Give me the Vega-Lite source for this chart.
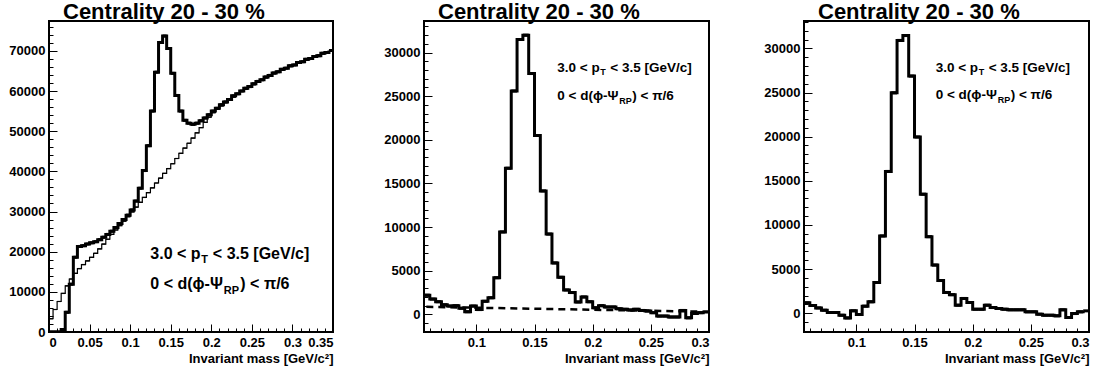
{
  "$schema": "https://vega.github.io/schema/vega-lite/v6.json",
  "background": "white",
  "padding": {"left": 7, "top": 0, "right": 0, "bottom": 2},
  "bounds": "flush",
  "spacing": 91,
  "config": {
    "view": {"stroke": "black", "strokeWidth": 2},
    "title": {"font": "Liberation Sans", "fontSize": 22, "fontWeight": "bold", "color": "black", "anchor": "start", "frame": "group", "dx": 14, "offset": -3, "baseline": "alphabetic"}
  },
  "datasets": {
    "L_fg": [
      {"lo":0.000,"hi":0.005,"v":0},{"lo":0.005,"hi":0.010,"v":0},{"lo":0.010,"hi":0.015,"v":0},{"lo":0.015,"hi":0.020,"v":600},
      {"lo":0.020,"hi":0.025,"v":4900},{"lo":0.025,"hi":0.030,"v":11900},{"lo":0.030,"hi":0.035,"v":18600},{"lo":0.035,"hi":0.040,"v":21300},
      {"lo":0.040,"hi":0.045,"v":21500},{"lo":0.045,"hi":0.050,"v":21900},{"lo":0.050,"hi":0.055,"v":22200},{"lo":0.055,"hi":0.060,"v":22500},
      {"lo":0.060,"hi":0.065,"v":23000},{"lo":0.065,"hi":0.070,"v":23600},{"lo":0.070,"hi":0.075,"v":24300},{"lo":0.075,"hi":0.080,"v":25100},
      {"lo":0.080,"hi":0.085,"v":26000},{"lo":0.085,"hi":0.090,"v":27000},{"lo":0.090,"hi":0.095,"v":28000},{"lo":0.095,"hi":0.100,"v":29100},
      {"lo":0.100,"hi":0.105,"v":30400},{"lo":0.105,"hi":0.110,"v":32600},{"lo":0.110,"hi":0.115,"v":35800},{"lo":0.115,"hi":0.120,"v":40200},
      {"lo":0.120,"hi":0.125,"v":46400},{"lo":0.125,"hi":0.130,"v":55000},{"lo":0.130,"hi":0.135,"v":64700},{"lo":0.135,"hi":0.140,"v":72100},
      {"lo":0.140,"hi":0.145,"v":73700},{"lo":0.145,"hi":0.150,"v":70600},{"lo":0.150,"hi":0.155,"v":64400},{"lo":0.155,"hi":0.160,"v":58900},
      {"lo":0.160,"hi":0.165,"v":55000},{"lo":0.165,"hi":0.170,"v":52700},{"lo":0.170,"hi":0.175,"v":52000},{"lo":0.175,"hi":0.180,"v":51700},
      {"lo":0.180,"hi":0.185,"v":52000},{"lo":0.185,"hi":0.190,"v":52600},{"lo":0.190,"hi":0.195,"v":53300},{"lo":0.195,"hi":0.200,"v":54100},
      {"lo":0.200,"hi":0.205,"v":55000},{"lo":0.205,"hi":0.210,"v":55700},{"lo":0.210,"hi":0.215,"v":56600},{"lo":0.215,"hi":0.220,"v":57300},
      {"lo":0.220,"hi":0.225,"v":57900},{"lo":0.225,"hi":0.230,"v":58800},{"lo":0.230,"hi":0.235,"v":59300},{"lo":0.235,"hi":0.240,"v":60000},
      {"lo":0.240,"hi":0.245,"v":60700},{"lo":0.245,"hi":0.250,"v":61100},{"lo":0.250,"hi":0.255,"v":61800},{"lo":0.255,"hi":0.260,"v":62400},
      {"lo":0.260,"hi":0.265,"v":62800},{"lo":0.265,"hi":0.270,"v":63500},{"lo":0.270,"hi":0.275,"v":63900},{"lo":0.275,"hi":0.280,"v":64500},
      {"lo":0.280,"hi":0.285,"v":64800},{"lo":0.285,"hi":0.290,"v":65400},{"lo":0.290,"hi":0.295,"v":65700},{"lo":0.295,"hi":0.300,"v":66300},
      {"lo":0.300,"hi":0.305,"v":66500},{"lo":0.305,"hi":0.310,"v":67100},{"lo":0.310,"hi":0.315,"v":67300},{"lo":0.315,"hi":0.320,"v":67900},
      {"lo":0.320,"hi":0.325,"v":68100},{"lo":0.325,"hi":0.330,"v":68600},{"lo":0.330,"hi":0.335,"v":68800},{"lo":0.335,"hi":0.340,"v":69400},
      {"lo":0.340,"hi":0.345,"v":69600},{"lo":0.345,"hi":0.350,"v":70100}
    ],
    "L_bg": [
      {"lo":0.000,"hi":0.005,"v":3300},{"lo":0.005,"hi":0.010,"v":5600},{"lo":0.010,"hi":0.015,"v":7600},{"lo":0.015,"hi":0.020,"v":9600},
      {"lo":0.020,"hi":0.025,"v":11500},{"lo":0.025,"hi":0.030,"v":13200},{"lo":0.030,"hi":0.035,"v":14600},{"lo":0.035,"hi":0.040,"v":15800},
      {"lo":0.040,"hi":0.045,"v":16800},{"lo":0.045,"hi":0.050,"v":17700},{"lo":0.050,"hi":0.055,"v":18600},{"lo":0.055,"hi":0.060,"v":19600},
      {"lo":0.060,"hi":0.065,"v":20700},{"lo":0.065,"hi":0.070,"v":21900},{"lo":0.070,"hi":0.075,"v":23100},{"lo":0.075,"hi":0.080,"v":24300},
      {"lo":0.080,"hi":0.085,"v":25400},{"lo":0.085,"hi":0.090,"v":26500},{"lo":0.090,"hi":0.095,"v":27600},{"lo":0.095,"hi":0.100,"v":28700},
      {"lo":0.100,"hi":0.105,"v":29900},{"lo":0.105,"hi":0.110,"v":31100},{"lo":0.110,"hi":0.115,"v":32300},{"lo":0.115,"hi":0.120,"v":33500},
      {"lo":0.120,"hi":0.125,"v":34700},{"lo":0.125,"hi":0.130,"v":35900},{"lo":0.130,"hi":0.135,"v":37100},{"lo":0.135,"hi":0.140,"v":38300},
      {"lo":0.140,"hi":0.145,"v":39500},{"lo":0.145,"hi":0.150,"v":40700},{"lo":0.150,"hi":0.155,"v":41900},{"lo":0.155,"hi":0.160,"v":43200},
      {"lo":0.160,"hi":0.165,"v":44500},{"lo":0.165,"hi":0.170,"v":45800},{"lo":0.170,"hi":0.175,"v":47000},{"lo":0.175,"hi":0.180,"v":48300},
      {"lo":0.180,"hi":0.185,"v":49600},{"lo":0.185,"hi":0.190,"v":50900},{"lo":0.190,"hi":0.195,"v":52200},{"lo":0.195,"hi":0.200,"v":53500},
      {"lo":0.200,"hi":0.205,"v":54600},{"lo":0.205,"hi":0.210,"v":55500},{"lo":0.210,"hi":0.215,"v":56300},{"lo":0.215,"hi":0.220,"v":57100},
      {"lo":0.220,"hi":0.225,"v":57800},{"lo":0.225,"hi":0.230,"v":58500},{"lo":0.230,"hi":0.235,"v":59200},{"lo":0.235,"hi":0.240,"v":59900},
      {"lo":0.240,"hi":0.245,"v":60400},{"lo":0.245,"hi":0.250,"v":61000},{"lo":0.250,"hi":0.255,"v":61600},{"lo":0.255,"hi":0.260,"v":62200},
      {"lo":0.260,"hi":0.265,"v":62700},{"lo":0.265,"hi":0.270,"v":63300},{"lo":0.270,"hi":0.275,"v":63800},{"lo":0.275,"hi":0.280,"v":64300},
      {"lo":0.280,"hi":0.285,"v":64800},{"lo":0.285,"hi":0.290,"v":65200},{"lo":0.290,"hi":0.295,"v":65700},{"lo":0.295,"hi":0.300,"v":66100},
      {"lo":0.300,"hi":0.305,"v":66500},{"lo":0.305,"hi":0.310,"v":66900},{"lo":0.310,"hi":0.315,"v":67300},{"lo":0.315,"hi":0.320,"v":67700},
      {"lo":0.320,"hi":0.325,"v":68100},{"lo":0.325,"hi":0.330,"v":68500},{"lo":0.330,"hi":0.335,"v":68900},{"lo":0.335,"hi":0.340,"v":69300},
      {"lo":0.340,"hi":0.345,"v":69600},{"lo":0.345,"hi":0.350,"v":70000}
    ],
    "M": [
      {"lo":0.055,"hi":0.060,"v":2200},{"lo":0.060,"hi":0.065,"v":1750},{"lo":0.065,"hi":0.070,"v":1450},{"lo":0.070,"hi":0.075,"v":1100},
      {"lo":0.075,"hi":0.080,"v":950},{"lo":0.080,"hi":0.085,"v":1000},{"lo":0.085,"hi":0.090,"v":700},{"lo":0.090,"hi":0.095,"v":300},
      {"lo":0.095,"hi":0.100,"v":950},{"lo":0.100,"hi":0.105,"v":550},{"lo":0.105,"hi":0.110,"v":1500},{"lo":0.110,"hi":0.115,"v":1900},
      {"lo":0.115,"hi":0.120,"v":4200},{"lo":0.120,"hi":0.125,"v":9450},{"lo":0.125,"hi":0.130,"v":16750},{"lo":0.130,"hi":0.135,"v":25600},
      {"lo":0.135,"hi":0.140,"v":31500},{"lo":0.140,"hi":0.145,"v":32000},{"lo":0.145,"hi":0.150,"v":27600},{"lo":0.150,"hi":0.155,"v":20500},
      {"lo":0.155,"hi":0.160,"v":14150},{"lo":0.160,"hi":0.165,"v":9200},{"lo":0.165,"hi":0.170,"v":5900},{"lo":0.170,"hi":0.175,"v":4250},
      {"lo":0.175,"hi":0.180,"v":2800},{"lo":0.180,"hi":0.185,"v":2500},{"lo":0.185,"hi":0.190,"v":1420},{"lo":0.190,"hi":0.195,"v":2000},
      {"lo":0.195,"hi":0.200,"v":1450},{"lo":0.200,"hi":0.205,"v":750},{"lo":0.205,"hi":0.210,"v":1000},{"lo":0.210,"hi":0.215,"v":850},
      {"lo":0.215,"hi":0.220,"v":850},{"lo":0.220,"hi":0.225,"v":650},{"lo":0.225,"hi":0.230,"v":580},{"lo":0.230,"hi":0.235,"v":500},
      {"lo":0.235,"hi":0.240,"v":580},{"lo":0.240,"hi":0.245,"v":450},{"lo":0.245,"hi":0.250,"v":380},{"lo":0.250,"hi":0.255,"v":200},
      {"lo":0.255,"hi":0.260,"v":-200},{"lo":0.260,"hi":0.265,"v":-200},{"lo":0.265,"hi":0.270,"v":-300},{"lo":0.270,"hi":0.275,"v":-300},
      {"lo":0.275,"hi":0.280,"v":450},{"lo":0.280,"hi":0.285,"v":-400},{"lo":0.285,"hi":0.290,"v":100},{"lo":0.290,"hi":0.295,"v":200},
      {"lo":0.295,"hi":0.300,"v":270}
    ],
    "M_fit": [{"m":0.057,"f":860},{"m":0.3,"f":300}],
    "R": [
      {"lo":0.055,"hi":0.060,"v":1170},{"lo":0.060,"hi":0.065,"v":870},{"lo":0.065,"hi":0.070,"v":600},{"lo":0.070,"hi":0.075,"v":340},
      {"lo":0.075,"hi":0.080,"v":80},{"lo":0.080,"hi":0.085,"v":80},{"lo":0.085,"hi":0.090,"v":-230},{"lo":0.090,"hi":0.095,"v":-530},
      {"lo":0.095,"hi":0.100,"v":270},{"lo":0.100,"hi":0.105,"v":-150},{"lo":0.105,"hi":0.110,"v":800},{"lo":0.110,"hi":0.115,"v":1290},
      {"lo":0.115,"hi":0.120,"v":3480},{"lo":0.120,"hi":0.125,"v":8750},{"lo":0.125,"hi":0.130,"v":16060},{"lo":0.130,"hi":0.135,"v":24960},
      {"lo":0.135,"hi":0.140,"v":30900},{"lo":0.140,"hi":0.145,"v":31450},{"lo":0.145,"hi":0.150,"v":26860},{"lo":0.150,"hi":0.155,"v":19960},
      {"lo":0.155,"hi":0.160,"v":13480},{"lo":0.160,"hi":0.165,"v":8670},{"lo":0.165,"hi":0.170,"v":5450},{"lo":0.170,"hi":0.175,"v":3700},
      {"lo":0.175,"hi":0.180,"v":2350},{"lo":0.180,"hi":0.185,"v":2100},{"lo":0.185,"hi":0.190,"v":910},{"lo":0.190,"hi":0.195,"v":1670},
      {"lo":0.195,"hi":0.200,"v":1210},{"lo":0.200,"hi":0.205,"v":450},{"lo":0.205,"hi":0.210,"v":450},{"lo":0.210,"hi":0.215,"v":910},
      {"lo":0.215,"hi":0.220,"v":640},{"lo":0.220,"hi":0.225,"v":530},{"lo":0.225,"hi":0.230,"v":450},{"lo":0.230,"hi":0.235,"v":380},
      {"lo":0.235,"hi":0.240,"v":380},{"lo":0.240,"hi":0.245,"v":380},{"lo":0.245,"hi":0.250,"v":150},{"lo":0.250,"hi":0.255,"v":150},
      {"lo":0.255,"hi":0.260,"v":-110},{"lo":0.260,"hi":0.265,"v":-230},{"lo":0.265,"hi":0.270,"v":-230},{"lo":0.270,"hi":0.275,"v":-300},
      {"lo":0.275,"hi":0.280,"v":380},{"lo":0.280,"hi":0.285,"v":-490},{"lo":0.285,"hi":0.290,"v":-40},{"lo":0.290,"hi":0.295,"v":150},
      {"lo":0.295,"hi":0.300,"v":265}
    ]
  },
  "hconcat": [
    {
      "width": 284, "height": 311,
      "title": {"text": "Centrality 20 - 30 %"},
      "resolve": {"axis": {"x": "independent", "y": "independent"}},
      "layer": [
        {"data": {"name": "L_bg"}, "mark": {"type": "line", "interpolate": "step-after", "color": "black", "strokeWidth": 1.2, "clip": true},
         "encoding": {
           "x": {"field": "lo", "type": "quantitative", "scale": {"domain": [0, 0.35], "nice": false, "zero": false},
                 "axis": {"orient": "bottom", "values": [0,0.05,0.1,0.15,0.2,0.25,0.3,0.35], "format": "~g", "tickSize": -8, "tickColor": "black", "labelPadding": 12, "grid": false, "domain": false,
                          "labelFont": "Liberation Sans", "labelFontWeight": "bold", "labelFontSize": 13, "labelColor": "black",
                          "title": "Invariant mass [GeV/c²]", "titleFont": "Liberation Sans", "titleFontWeight": "bold", "titleFontSize": 13, "titleColor": "black", "titleAnchor": "end", "titlePadding": 3}},
           "y": {"field": "v", "type": "quantitative", "scale": {"domain": [0, 77440], "nice": false, "zero": false},
                 "axis": {"orient": "left", "values": [0,10000,20000,30000,40000,50000,60000,70000], "format": "d", "tickSize": -8, "tickColor": "black", "labelPadding": 12, "grid": false, "domain": false,
                          "labelFont": "Liberation Sans", "labelFontWeight": "bold", "labelFontSize": 13, "labelColor": "black", "title": null}}}},
        {"data": {"name": "L_bg"}, "mark": {"type": "rule", "color": "black", "strokeWidth": 1.2, "clip": true},
         "encoding": {
           "x": {"field": "lo", "type": "quantitative", "scale": {"domain": [0, 0.35], "nice": false, "zero": false},
                 "axis": {"orient": "bottom", "values": [0.01,0.02,0.03,0.04,0.06,0.07,0.08,0.09,0.11,0.12,0.13,0.14,0.16,0.17,0.18,0.19,0.21,0.22,0.23,0.24,0.26,0.27,0.28,0.29,0.31,0.32,0.33,0.34], "labels": false, "tickSize": -4, "tickColor": "black", "grid": false, "domain": false, "title": null}},
           "x2": {"field": "hi"},
           "y": {"field": "v", "type": "quantitative", "scale": {"domain": [0, 77440], "nice": false, "zero": false},
                 "axis": {"orient": "left", "values": [2000,4000,6000,8000,12000,14000,16000,18000,22000,24000,26000,28000,32000,34000,36000,38000,42000,44000,46000,48000,52000,54000,56000,58000,62000,64000,66000,68000,72000,74000,76000], "labels": false, "tickSize": -4, "tickColor": "black", "grid": false, "domain": false, "title": null}}}},
        {"data": {"name": "L_fg"}, "mark": {"type": "line", "interpolate": "step-after", "color": "black", "strokeWidth": 3, "clip": true},
         "encoding": {"x": {"field": "lo", "type": "quantitative", "axis": null}, "y": {"field": "v", "type": "quantitative", "axis": null}}},
        {"data": {"name": "L_fg"}, "mark": {"type": "rule", "color": "black", "strokeWidth": 3, "clip": true},
         "encoding": {"x": {"field": "lo", "type": "quantitative", "axis": null}, "x2": {"field": "hi"}, "y": {"field": "v", "type": "quantitative", "axis": null}}},
        {"data": {"values": [{"x": 0.1249, "y": 18250}]}, "mark": {"type": "text", "text": "3.0 < p", "align": "left", "baseline": "alphabetic", "font": "Liberation Sans", "fontWeight": "bold", "fontSize": 16, "color": "black"},
         "encoding": {"x": {"field": "x", "type": "quantitative", "axis": null}, "y": {"field": "y", "type": "quantitative", "axis": null}}},
        {"data": {"values": [{"x": 0.1249, "y": 18250}]}, "mark": {"type": "text", "text": "T", "align": "left", "baseline": "alphabetic", "dx": 51, "dy": 4, "font": "Liberation Sans", "fontWeight": "bold", "fontSize": 11, "color": "black"},
         "encoding": {"x": {"field": "x", "type": "quantitative", "axis": null}, "y": {"field": "y", "type": "quantitative", "axis": null}}},
        {"data": {"values": [{"x": 0.1249, "y": 18250}]}, "mark": {"type": "text", "text": "< 3.5 [GeV/c]", "align": "left", "baseline": "alphabetic", "dx": 62.5, "font": "Liberation Sans", "fontWeight": "bold", "fontSize": 16, "color": "black"},
         "encoding": {"x": {"field": "x", "type": "quantitative", "axis": null}, "y": {"field": "y", "type": "quantitative", "axis": null}}},
        {"data": {"values": [{"x": 0.1249, "y": 10630}]}, "mark": {"type": "text", "text": "0 < d(ϕ-Ψ", "align": "left", "baseline": "alphabetic", "font": "Liberation Sans", "fontWeight": "bold", "fontSize": 16, "color": "black"},
         "encoding": {"x": {"field": "x", "type": "quantitative", "axis": null}, "y": {"field": "y", "type": "quantitative", "axis": null}}},
        {"data": {"values": [{"x": 0.1249, "y": 10630}]}, "mark": {"type": "text", "text": "RP", "align": "left", "baseline": "alphabetic", "dx": 73.5, "dy": 5, "font": "Liberation Sans", "fontWeight": "bold", "fontSize": 11, "color": "black"},
         "encoding": {"x": {"field": "x", "type": "quantitative", "axis": null}, "y": {"field": "y", "type": "quantitative", "axis": null}}},
        {"data": {"values": [{"x": 0.1249, "y": 10630}]}, "mark": {"type": "text", "text": ") < π/6", "align": "left", "baseline": "alphabetic", "dx": 90, "font": "Liberation Sans", "fontWeight": "bold", "fontSize": 16, "color": "black"},
         "encoding": {"x": {"field": "x", "type": "quantitative", "axis": null}, "y": {"field": "y", "type": "quantitative", "axis": null}}}
      ]
    },
    {
      "bounds": "flush",
      "spacing": 95,
      "hconcat": [
        {
          "width": 285, "height": 311,
          "title": {"text": "Centrality 20 - 30 %"},
          "resolve": {"axis": {"x": "independent", "y": "independent"}},
          "layer": [
            {"data": {"name": "M"}, "mark": {"type": "line", "interpolate": "step-after", "color": "black", "strokeWidth": 3, "clip": true},
             "encoding": {
               "x": {"field": "lo", "type": "quantitative", "scale": {"domain": [0.055, 0.3], "nice": false, "zero": false},
                     "axis": {"orient": "bottom", "values": [0.1,0.15,0.2,0.25,0.3], "format": "~g", "tickSize": -8, "tickColor": "black", "labelPadding": 12, "grid": false, "domain": false,
                              "labelFont": "Liberation Sans", "labelFontWeight": "bold", "labelFontSize": 13, "labelColor": "black",
                              "title": "Invariant mass [GeV/c²]", "titleFont": "Liberation Sans", "titleFontWeight": "bold", "titleFontSize": 13, "titleColor": "black", "titleAnchor": "end", "titlePadding": 3}},
               "y": {"field": "v", "type": "quantitative", "scale": {"domain": [-2020, 33620], "nice": false, "zero": false},
                     "axis": {"orient": "left", "values": [0,5000,10000,15000,20000,25000,30000], "format": "d", "tickSize": -8, "tickColor": "black", "labelPadding": 12, "grid": false, "domain": false,
                              "labelFont": "Liberation Sans", "labelFontWeight": "bold", "labelFontSize": 13, "labelColor": "black", "title": null}}}},
            {"data": {"name": "M"}, "mark": {"type": "rule", "color": "black", "strokeWidth": 3, "clip": true},
             "encoding": {
               "x": {"field": "lo", "type": "quantitative", "scale": {"domain": [0.055, 0.3], "nice": false, "zero": false},
                     "axis": {"orient": "bottom", "values": [0.06,0.07,0.08,0.09,0.11,0.12,0.13,0.14,0.16,0.17,0.18,0.19,0.21,0.22,0.23,0.24,0.26,0.27,0.28,0.29], "labels": false, "tickSize": -4, "tickColor": "black", "grid": false, "domain": false, "title": null}},
               "x2": {"field": "hi"},
               "y": {"field": "v", "type": "quantitative", "scale": {"domain": [-2020, 33620], "nice": false, "zero": false},
                     "axis": {"orient": "left", "values": [-1000,1000,2000,3000,4000,6000,7000,8000,9000,11000,12000,13000,14000,16000,17000,18000,19000,21000,22000,23000,24000,26000,27000,28000,29000,31000,32000,33000], "labels": false, "tickSize": -4, "tickColor": "black", "grid": false, "domain": false, "title": null}}}},
            {"data": {"name": "M_fit"}, "mark": {"type": "line", "color": "black", "strokeWidth": 2.5, "strokeDash": [7, 5], "clip": true},
             "encoding": {"x": {"field": "m", "type": "quantitative", "axis": null}, "y": {"field": "f", "type": "quantitative", "axis": null}}},
            {"data": {"values": [{"x": 0.1696, "y": 27780}]}, "mark": {"type": "text", "text": "3.0 < p", "align": "left", "baseline": "alphabetic", "font": "Liberation Sans", "fontWeight": "bold", "fontSize": 13.5, "color": "black"},
             "encoding": {"x": {"field": "x", "type": "quantitative", "axis": null}, "y": {"field": "y", "type": "quantitative", "axis": null}}},
            {"data": {"values": [{"x": 0.1696, "y": 27780}]}, "mark": {"type": "text", "text": "T", "align": "left", "baseline": "alphabetic", "dx": 43, "dy": 3, "font": "Liberation Sans", "fontWeight": "bold", "fontSize": 9, "color": "black"},
             "encoding": {"x": {"field": "x", "type": "quantitative", "axis": null}, "y": {"field": "y", "type": "quantitative", "axis": null}}},
            {"data": {"values": [{"x": 0.1696, "y": 27780}]}, "mark": {"type": "text", "text": "< 3.5 [GeV/c]", "align": "left", "baseline": "alphabetic", "dx": 53, "font": "Liberation Sans", "fontWeight": "bold", "fontSize": 13.5, "color": "black"},
             "encoding": {"x": {"field": "x", "type": "quantitative", "axis": null}, "y": {"field": "y", "type": "quantitative", "axis": null}}},
            {"data": {"values": [{"x": 0.1696, "y": 24570}]}, "mark": {"type": "text", "text": "0 < d(ϕ-Ψ", "align": "left", "baseline": "alphabetic", "font": "Liberation Sans", "fontWeight": "bold", "fontSize": 13.5, "color": "black"},
             "encoding": {"x": {"field": "x", "type": "quantitative", "axis": null}, "y": {"field": "y", "type": "quantitative", "axis": null}}},
            {"data": {"values": [{"x": 0.1696, "y": 24570}]}, "mark": {"type": "text", "text": "RP", "align": "left", "baseline": "alphabetic", "dx": 62, "dy": 4, "font": "Liberation Sans", "fontWeight": "bold", "fontSize": 9, "color": "black"},
             "encoding": {"x": {"field": "x", "type": "quantitative", "axis": null}, "y": {"field": "y", "type": "quantitative", "axis": null}}},
            {"data": {"values": [{"x": 0.1696, "y": 24570}]}, "mark": {"type": "text", "text": ") < π/6", "align": "left", "baseline": "alphabetic", "dx": 75, "font": "Liberation Sans", "fontWeight": "bold", "fontSize": 13.5, "color": "black"},
             "encoding": {"x": {"field": "x", "type": "quantitative", "axis": null}, "y": {"field": "y", "type": "quantitative", "axis": null}}}
          ]
        },
        {
          "width": 285, "height": 311,
          "title": {"text": "Centrality 20 - 30 %"},
          "resolve": {"axis": {"x": "independent", "y": "independent"}},
          "layer": [
            {"data": {"name": "R"}, "mark": {"type": "line", "interpolate": "step-after", "color": "black", "strokeWidth": 3, "clip": true},
             "encoding": {
               "x": {"field": "lo", "type": "quantitative", "scale": {"domain": [0.055, 0.3], "nice": false, "zero": false},
                     "axis": {"orient": "bottom", "values": [0.1,0.15,0.2,0.25,0.3], "format": "~g", "tickSize": -8, "tickColor": "black", "labelPadding": 12, "grid": false, "domain": false,
                              "labelFont": "Liberation Sans", "labelFontWeight": "bold", "labelFontSize": 13, "labelColor": "black",
                              "title": "Invariant mass [GeV/c²]", "titleFont": "Liberation Sans", "titleFontWeight": "bold", "titleFontSize": 13, "titleColor": "black", "titleAnchor": "end", "titlePadding": 3}},
               "y": {"field": "v", "type": "quantitative", "scale": {"domain": [-2130, 33100], "nice": false, "zero": false},
                     "axis": {"orient": "left", "values": [0,5000,10000,15000,20000,25000,30000], "format": "d", "tickSize": -8, "tickColor": "black", "labelPadding": 12, "grid": false, "domain": false,
                              "labelFont": "Liberation Sans", "labelFontWeight": "bold", "labelFontSize": 13, "labelColor": "black", "title": null}}}},
            {"data": {"name": "R"}, "mark": {"type": "rule", "color": "black", "strokeWidth": 3, "clip": true},
             "encoding": {
               "x": {"field": "lo", "type": "quantitative", "scale": {"domain": [0.055, 0.3], "nice": false, "zero": false},
                     "axis": {"orient": "bottom", "values": [0.06,0.07,0.08,0.09,0.11,0.12,0.13,0.14,0.16,0.17,0.18,0.19,0.21,0.22,0.23,0.24,0.26,0.27,0.28,0.29], "labels": false, "tickSize": -4, "tickColor": "black", "grid": false, "domain": false, "title": null}},
               "x2": {"field": "hi"},
               "y": {"field": "v", "type": "quantitative", "scale": {"domain": [-2130, 33100], "nice": false, "zero": false},
                     "axis": {"orient": "left", "values": [-2000,-1000,1000,2000,3000,4000,6000,7000,8000,9000,11000,12000,13000,14000,16000,17000,18000,19000,21000,22000,23000,24000,26000,27000,28000,29000,31000,32000,33000], "labels": false, "tickSize": -4, "tickColor": "black", "grid": false, "domain": false, "title": null}}}},
            {"data": {"values": [{"x": 0.1682, "y": 27320}]}, "mark": {"type": "text", "text": "3.0 < p", "align": "left", "baseline": "alphabetic", "font": "Liberation Sans", "fontWeight": "bold", "fontSize": 13.5, "color": "black"},
             "encoding": {"x": {"field": "x", "type": "quantitative", "axis": null}, "y": {"field": "y", "type": "quantitative", "axis": null}}},
            {"data": {"values": [{"x": 0.1682, "y": 27320}]}, "mark": {"type": "text", "text": "T", "align": "left", "baseline": "alphabetic", "dx": 43, "dy": 3, "font": "Liberation Sans", "fontWeight": "bold", "fontSize": 9, "color": "black"},
             "encoding": {"x": {"field": "x", "type": "quantitative", "axis": null}, "y": {"field": "y", "type": "quantitative", "axis": null}}},
            {"data": {"values": [{"x": 0.1682, "y": 27320}]}, "mark": {"type": "text", "text": "< 3.5 [GeV/c]", "align": "left", "baseline": "alphabetic", "dx": 53, "font": "Liberation Sans", "fontWeight": "bold", "fontSize": 13.5, "color": "black"},
             "encoding": {"x": {"field": "x", "type": "quantitative", "axis": null}, "y": {"field": "y", "type": "quantitative", "axis": null}}},
            {"data": {"values": [{"x": 0.1682, "y": 24230}]}, "mark": {"type": "text", "text": "0 < d(ϕ-Ψ", "align": "left", "baseline": "alphabetic", "font": "Liberation Sans", "fontWeight": "bold", "fontSize": 13.5, "color": "black"},
             "encoding": {"x": {"field": "x", "type": "quantitative", "axis": null}, "y": {"field": "y", "type": "quantitative", "axis": null}}},
            {"data": {"values": [{"x": 0.1682, "y": 24230}]}, "mark": {"type": "text", "text": "RP", "align": "left", "baseline": "alphabetic", "dx": 62, "dy": 4, "font": "Liberation Sans", "fontWeight": "bold", "fontSize": 9, "color": "black"},
             "encoding": {"x": {"field": "x", "type": "quantitative", "axis": null}, "y": {"field": "y", "type": "quantitative", "axis": null}}},
            {"data": {"values": [{"x": 0.1682, "y": 24230}]}, "mark": {"type": "text", "text": ") < π/6", "align": "left", "baseline": "alphabetic", "dx": 75, "font": "Liberation Sans", "fontWeight": "bold", "fontSize": 13.5, "color": "black"},
             "encoding": {"x": {"field": "x", "type": "quantitative", "axis": null}, "y": {"field": "y", "type": "quantitative", "axis": null}}}
          ]
        }
      ]
    }
  ]
}
